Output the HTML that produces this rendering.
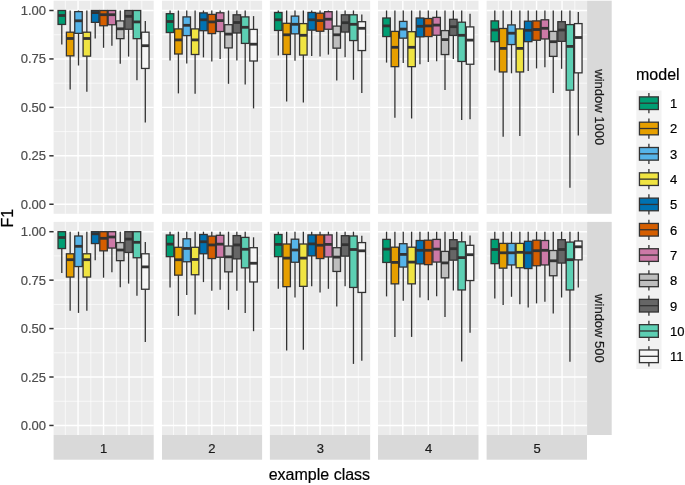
<!DOCTYPE html>
<html lang="en"><head><meta charset="utf-8"><title>F1 by example class</title>
<style>html,body{margin:0;padding:0;background:#fff;}body{width:685px;height:485px;overflow:hidden;}svg{display:block;will-change:transform;}</style>
</head><body>
<svg width="685" height="485" viewBox="0 0 685 485" font-family="'Liberation Sans', sans-serif">
<rect x="0" y="0" width="685" height="485" fill="#ffffff"/>
<g>
<rect x="53.60" y="0.70" width="100.10" height="213.10" fill="#EBEBEB"/>
<line x1="53.60" x2="153.70" y1="180.03" y2="180.03" stroke="#fff" stroke-opacity="0.9" stroke-width="0.75"/>
<line x1="53.60" x2="153.70" y1="131.59" y2="131.59" stroke="#fff" stroke-opacity="0.9" stroke-width="0.75"/>
<line x1="53.60" x2="153.70" y1="83.16" y2="83.16" stroke="#fff" stroke-opacity="0.9" stroke-width="0.75"/>
<line x1="53.60" x2="153.70" y1="34.72" y2="34.72" stroke="#fff" stroke-opacity="0.9" stroke-width="0.75"/>
<line x1="65.30" x2="65.30" y1="0.70" y2="213.80" stroke="#fff" stroke-opacity="0.9" stroke-width="0.75"/>
<line x1="90.80" x2="90.80" y1="0.70" y2="213.80" stroke="#fff" stroke-opacity="0.9" stroke-width="0.75"/>
<line x1="116.30" x2="116.30" y1="0.70" y2="213.80" stroke="#fff" stroke-opacity="0.9" stroke-width="0.75"/>
<line x1="141.80" x2="141.80" y1="0.70" y2="213.80" stroke="#fff" stroke-opacity="0.9" stroke-width="0.75"/>
<line x1="53.60" x2="153.70" y1="204.25" y2="204.25" stroke="#fff" stroke-width="1.4"/>
<line x1="53.60" x2="153.70" y1="155.81" y2="155.81" stroke="#fff" stroke-width="1.4"/>
<line x1="53.60" x2="153.70" y1="107.38" y2="107.38" stroke="#fff" stroke-width="1.4"/>
<line x1="53.60" x2="153.70" y1="58.94" y2="58.94" stroke="#fff" stroke-width="1.4"/>
<line x1="53.60" x2="153.70" y1="10.50" y2="10.50" stroke="#fff" stroke-width="1.4"/>
<line x1="78.05" x2="78.05" y1="0.70" y2="213.80" stroke="#fff" stroke-width="1.4"/>
<line x1="103.55" x2="103.55" y1="0.70" y2="213.80" stroke="#fff" stroke-width="1.4"/>
<line x1="129.05" x2="129.05" y1="0.70" y2="213.80" stroke="#fff" stroke-width="1.4"/>
<line x1="61.80" x2="61.80" y1="24.45" y2="44.50" stroke="#333333" stroke-width="1.3"/>
<rect x="58.04" y="10.50" width="7.51" height="13.95" fill="#009E73" stroke="#333333" stroke-width="1.3"/>
<line x1="58.04" x2="65.56" y1="15.50" y2="15.50" stroke="#333333" stroke-width="2.8"/>
<line x1="70.15" x2="70.15" y1="10.50" y2="32.20" stroke="#333333" stroke-width="1.3"/>
<line x1="70.15" x2="70.15" y1="55.85" y2="89.60" stroke="#333333" stroke-width="1.3"/>
<rect x="66.39" y="32.20" width="7.51" height="23.65" fill="#E69F00" stroke="#333333" stroke-width="1.3"/>
<line x1="66.39" x2="73.91" y1="38.50" y2="38.50" stroke="#333333" stroke-width="2.8"/>
<line x1="78.50" x2="78.50" y1="10.50" y2="11.60" stroke="#333333" stroke-width="1.3"/>
<line x1="78.50" x2="78.50" y1="33.35" y2="65.50" stroke="#333333" stroke-width="1.3"/>
<rect x="74.74" y="11.60" width="7.51" height="21.75" fill="#56B4E9" stroke="#333333" stroke-width="1.3"/>
<line x1="74.74" x2="82.26" y1="20.80" y2="20.80" stroke="#333333" stroke-width="2.8"/>
<line x1="86.85" x2="86.85" y1="10.50" y2="32.20" stroke="#333333" stroke-width="1.3"/>
<line x1="86.85" x2="86.85" y1="56.15" y2="91.70" stroke="#333333" stroke-width="1.3"/>
<rect x="83.09" y="32.20" width="7.51" height="23.95" fill="#F0E442" stroke="#333333" stroke-width="1.3"/>
<line x1="83.09" x2="90.61" y1="38.50" y2="38.50" stroke="#333333" stroke-width="2.8"/>
<line x1="95.20" x2="95.20" y1="22.35" y2="38.60" stroke="#333333" stroke-width="1.3"/>
<rect x="91.44" y="10.50" width="7.51" height="11.85" fill="#0072B2" stroke="#333333" stroke-width="1.3"/>
<line x1="91.44" x2="98.96" y1="12.60" y2="12.60" stroke="#333333" stroke-width="2.8"/>
<line x1="103.55" x2="103.55" y1="25.75" y2="47.80" stroke="#333333" stroke-width="1.3"/>
<rect x="99.79" y="10.50" width="7.51" height="15.25" fill="#D55E00" stroke="#333333" stroke-width="1.3"/>
<line x1="99.79" x2="107.31" y1="14.70" y2="14.70" stroke="#333333" stroke-width="2.8"/>
<line x1="111.90" x2="111.90" y1="24.75" y2="45.80" stroke="#333333" stroke-width="1.3"/>
<rect x="108.14" y="10.50" width="7.51" height="14.25" fill="#CC79A7" stroke="#333333" stroke-width="1.3"/>
<line x1="108.14" x2="115.66" y1="14.70" y2="14.70" stroke="#333333" stroke-width="2.8"/>
<line x1="120.25" x2="120.25" y1="10.50" y2="20.90" stroke="#333333" stroke-width="1.3"/>
<line x1="120.25" x2="120.25" y1="38.65" y2="63.80" stroke="#333333" stroke-width="1.3"/>
<rect x="116.49" y="20.90" width="7.51" height="17.75" fill="#BEBEBE" stroke="#333333" stroke-width="1.3"/>
<line x1="116.49" x2="124.01" y1="28.80" y2="28.80" stroke="#333333" stroke-width="2.8"/>
<line x1="128.60" x2="128.60" y1="29.25" y2="56.60" stroke="#333333" stroke-width="1.3"/>
<rect x="124.84" y="10.50" width="7.51" height="18.75" fill="#666666" stroke="#333333" stroke-width="1.3"/>
<line x1="124.84" x2="132.36" y1="16.30" y2="16.30" stroke="#333333" stroke-width="2.8"/>
<line x1="136.95" x2="136.95" y1="38.65" y2="80.20" stroke="#333333" stroke-width="1.3"/>
<rect x="133.19" y="10.50" width="7.51" height="28.15" fill="#5CCFB3" stroke="#333333" stroke-width="1.3"/>
<line x1="133.19" x2="140.71" y1="21.90" y2="21.90" stroke="#333333" stroke-width="2.8"/>
<line x1="145.30" x2="145.30" y1="20.90" y2="32.20" stroke="#333333" stroke-width="1.3"/>
<line x1="145.30" x2="145.30" y1="68.45" y2="122.50" stroke="#333333" stroke-width="1.3"/>
<rect x="141.54" y="32.20" width="7.51" height="36.25" fill="#F6F6F6" stroke="#333333" stroke-width="1.3"/>
<line x1="141.54" x2="149.06" y1="45.70" y2="45.70" stroke="#333333" stroke-width="2.8"/>
</g>
<g>
<rect x="162.00" y="0.70" width="100.10" height="213.10" fill="#EBEBEB"/>
<line x1="162.00" x2="262.10" y1="180.03" y2="180.03" stroke="#fff" stroke-opacity="0.9" stroke-width="0.75"/>
<line x1="162.00" x2="262.10" y1="131.59" y2="131.59" stroke="#fff" stroke-opacity="0.9" stroke-width="0.75"/>
<line x1="162.00" x2="262.10" y1="83.16" y2="83.16" stroke="#fff" stroke-opacity="0.9" stroke-width="0.75"/>
<line x1="162.00" x2="262.10" y1="34.72" y2="34.72" stroke="#fff" stroke-opacity="0.9" stroke-width="0.75"/>
<line x1="173.55" x2="173.55" y1="0.70" y2="213.80" stroke="#fff" stroke-opacity="0.9" stroke-width="0.75"/>
<line x1="199.05" x2="199.05" y1="0.70" y2="213.80" stroke="#fff" stroke-opacity="0.9" stroke-width="0.75"/>
<line x1="224.55" x2="224.55" y1="0.70" y2="213.80" stroke="#fff" stroke-opacity="0.9" stroke-width="0.75"/>
<line x1="250.05" x2="250.05" y1="0.70" y2="213.80" stroke="#fff" stroke-opacity="0.9" stroke-width="0.75"/>
<line x1="162.00" x2="262.10" y1="204.25" y2="204.25" stroke="#fff" stroke-width="1.4"/>
<line x1="162.00" x2="262.10" y1="155.81" y2="155.81" stroke="#fff" stroke-width="1.4"/>
<line x1="162.00" x2="262.10" y1="107.38" y2="107.38" stroke="#fff" stroke-width="1.4"/>
<line x1="162.00" x2="262.10" y1="58.94" y2="58.94" stroke="#fff" stroke-width="1.4"/>
<line x1="162.00" x2="262.10" y1="10.50" y2="10.50" stroke="#fff" stroke-width="1.4"/>
<line x1="186.30" x2="186.30" y1="0.70" y2="213.80" stroke="#fff" stroke-width="1.4"/>
<line x1="211.80" x2="211.80" y1="0.70" y2="213.80" stroke="#fff" stroke-width="1.4"/>
<line x1="237.30" x2="237.30" y1="0.70" y2="213.80" stroke="#fff" stroke-width="1.4"/>
<line x1="170.05" x2="170.05" y1="10.50" y2="13.70" stroke="#333333" stroke-width="1.3"/>
<line x1="170.05" x2="170.05" y1="32.50" y2="60.40" stroke="#333333" stroke-width="1.3"/>
<rect x="166.29" y="13.70" width="7.51" height="18.80" fill="#009E73" stroke="#333333" stroke-width="1.3"/>
<line x1="166.29" x2="173.81" y1="21.50" y2="21.50" stroke="#333333" stroke-width="2.8"/>
<line x1="178.40" x2="178.40" y1="10.50" y2="28.90" stroke="#333333" stroke-width="1.3"/>
<line x1="178.40" x2="178.40" y1="54.00" y2="93.40" stroke="#333333" stroke-width="1.3"/>
<rect x="174.64" y="28.90" width="7.51" height="25.10" fill="#E69F00" stroke="#333333" stroke-width="1.3"/>
<line x1="174.64" x2="182.16" y1="39.90" y2="39.90" stroke="#333333" stroke-width="2.8"/>
<line x1="186.75" x2="186.75" y1="10.50" y2="16.90" stroke="#333333" stroke-width="1.3"/>
<line x1="186.75" x2="186.75" y1="35.60" y2="63.50" stroke="#333333" stroke-width="1.3"/>
<rect x="182.99" y="16.90" width="7.51" height="18.70" fill="#56B4E9" stroke="#333333" stroke-width="1.3"/>
<line x1="182.99" x2="190.51" y1="25.30" y2="25.30" stroke="#333333" stroke-width="2.8"/>
<line x1="195.10" x2="195.10" y1="10.50" y2="28.90" stroke="#333333" stroke-width="1.3"/>
<line x1="195.10" x2="195.10" y1="54.50" y2="93.70" stroke="#333333" stroke-width="1.3"/>
<rect x="191.34" y="28.90" width="7.51" height="25.60" fill="#F0E442" stroke="#333333" stroke-width="1.3"/>
<line x1="191.34" x2="198.86" y1="39.90" y2="39.90" stroke="#333333" stroke-width="2.8"/>
<line x1="203.45" x2="203.45" y1="10.50" y2="12.90" stroke="#333333" stroke-width="1.3"/>
<line x1="203.45" x2="203.45" y1="30.70" y2="57.40" stroke="#333333" stroke-width="1.3"/>
<rect x="199.69" y="12.90" width="7.51" height="17.80" fill="#0072B2" stroke="#333333" stroke-width="1.3"/>
<line x1="199.69" x2="207.21" y1="19.80" y2="19.80" stroke="#333333" stroke-width="2.8"/>
<line x1="211.80" x2="211.80" y1="10.50" y2="14.40" stroke="#333333" stroke-width="1.3"/>
<line x1="211.80" x2="211.80" y1="33.60" y2="61.60" stroke="#333333" stroke-width="1.3"/>
<rect x="208.04" y="14.40" width="7.51" height="19.20" fill="#D55E00" stroke="#333333" stroke-width="1.3"/>
<line x1="208.04" x2="215.56" y1="21.90" y2="21.90" stroke="#333333" stroke-width="2.8"/>
<line x1="220.15" x2="220.15" y1="10.50" y2="12.80" stroke="#333333" stroke-width="1.3"/>
<line x1="220.15" x2="220.15" y1="31.50" y2="59.10" stroke="#333333" stroke-width="1.3"/>
<rect x="216.39" y="12.80" width="7.51" height="18.70" fill="#CC79A7" stroke="#333333" stroke-width="1.3"/>
<line x1="216.39" x2="223.91" y1="20.60" y2="20.60" stroke="#333333" stroke-width="2.8"/>
<line x1="228.50" x2="228.50" y1="10.50" y2="24.70" stroke="#333333" stroke-width="1.3"/>
<line x1="228.50" x2="228.50" y1="47.90" y2="83.80" stroke="#333333" stroke-width="1.3"/>
<rect x="224.74" y="24.70" width="7.51" height="23.20" fill="#BEBEBE" stroke="#333333" stroke-width="1.3"/>
<line x1="224.74" x2="232.26" y1="34.10" y2="34.10" stroke="#333333" stroke-width="2.8"/>
<line x1="236.85" x2="236.85" y1="10.50" y2="14.80" stroke="#333333" stroke-width="1.3"/>
<line x1="236.85" x2="236.85" y1="33.00" y2="60.40" stroke="#333333" stroke-width="1.3"/>
<rect x="233.09" y="14.80" width="7.51" height="18.20" fill="#666666" stroke="#333333" stroke-width="1.3"/>
<line x1="233.09" x2="240.61" y1="22.50" y2="22.50" stroke="#333333" stroke-width="2.8"/>
<line x1="245.20" x2="245.20" y1="10.50" y2="16.90" stroke="#333333" stroke-width="1.3"/>
<line x1="245.20" x2="245.20" y1="43.40" y2="84.60" stroke="#333333" stroke-width="1.3"/>
<rect x="241.44" y="16.90" width="7.51" height="26.50" fill="#5CCFB3" stroke="#333333" stroke-width="1.3"/>
<line x1="241.44" x2="248.96" y1="27.30" y2="27.30" stroke="#333333" stroke-width="2.8"/>
<line x1="253.55" x2="253.55" y1="16.10" y2="29.40" stroke="#333333" stroke-width="1.3"/>
<line x1="253.55" x2="253.55" y1="61.00" y2="108.40" stroke="#333333" stroke-width="1.3"/>
<rect x="249.79" y="29.40" width="7.51" height="31.60" fill="#F6F6F6" stroke="#333333" stroke-width="1.3"/>
<line x1="249.79" x2="257.31" y1="44.20" y2="44.20" stroke="#333333" stroke-width="2.8"/>
</g>
<g>
<rect x="269.90" y="0.70" width="100.25" height="213.10" fill="#EBEBEB"/>
<line x1="269.90" x2="370.15" y1="180.03" y2="180.03" stroke="#fff" stroke-opacity="0.9" stroke-width="0.75"/>
<line x1="269.90" x2="370.15" y1="131.59" y2="131.59" stroke="#fff" stroke-opacity="0.9" stroke-width="0.75"/>
<line x1="269.90" x2="370.15" y1="83.16" y2="83.16" stroke="#fff" stroke-opacity="0.9" stroke-width="0.75"/>
<line x1="269.90" x2="370.15" y1="34.72" y2="34.72" stroke="#fff" stroke-opacity="0.9" stroke-width="0.75"/>
<line x1="281.80" x2="281.80" y1="0.70" y2="213.80" stroke="#fff" stroke-opacity="0.9" stroke-width="0.75"/>
<line x1="307.30" x2="307.30" y1="0.70" y2="213.80" stroke="#fff" stroke-opacity="0.9" stroke-width="0.75"/>
<line x1="332.80" x2="332.80" y1="0.70" y2="213.80" stroke="#fff" stroke-opacity="0.9" stroke-width="0.75"/>
<line x1="358.30" x2="358.30" y1="0.70" y2="213.80" stroke="#fff" stroke-opacity="0.9" stroke-width="0.75"/>
<line x1="269.90" x2="370.15" y1="204.25" y2="204.25" stroke="#fff" stroke-width="1.4"/>
<line x1="269.90" x2="370.15" y1="155.81" y2="155.81" stroke="#fff" stroke-width="1.4"/>
<line x1="269.90" x2="370.15" y1="107.38" y2="107.38" stroke="#fff" stroke-width="1.4"/>
<line x1="269.90" x2="370.15" y1="58.94" y2="58.94" stroke="#fff" stroke-width="1.4"/>
<line x1="269.90" x2="370.15" y1="10.50" y2="10.50" stroke="#fff" stroke-width="1.4"/>
<line x1="294.55" x2="294.55" y1="0.70" y2="213.80" stroke="#fff" stroke-width="1.4"/>
<line x1="320.05" x2="320.05" y1="0.70" y2="213.80" stroke="#fff" stroke-width="1.4"/>
<line x1="345.55" x2="345.55" y1="0.70" y2="213.80" stroke="#fff" stroke-width="1.4"/>
<line x1="278.30" x2="278.30" y1="10.50" y2="12.50" stroke="#333333" stroke-width="1.3"/>
<line x1="278.30" x2="278.30" y1="30.45" y2="55.60" stroke="#333333" stroke-width="1.3"/>
<rect x="274.54" y="12.50" width="7.51" height="17.95" fill="#009E73" stroke="#333333" stroke-width="1.3"/>
<line x1="274.54" x2="282.06" y1="19.80" y2="19.80" stroke="#333333" stroke-width="2.8"/>
<line x1="286.65" x2="286.65" y1="10.50" y2="23.30" stroke="#333333" stroke-width="1.3"/>
<line x1="286.65" x2="286.65" y1="54.45" y2="101.50" stroke="#333333" stroke-width="1.3"/>
<rect x="282.89" y="23.30" width="7.51" height="31.15" fill="#E69F00" stroke="#333333" stroke-width="1.3"/>
<line x1="282.89" x2="290.41" y1="34.80" y2="34.80" stroke="#333333" stroke-width="2.8"/>
<line x1="295.00" x2="295.00" y1="10.50" y2="16.10" stroke="#333333" stroke-width="1.3"/>
<line x1="295.00" x2="295.00" y1="33.85" y2="60.80" stroke="#333333" stroke-width="1.3"/>
<rect x="291.24" y="16.10" width="7.51" height="17.75" fill="#56B4E9" stroke="#333333" stroke-width="1.3"/>
<line x1="291.24" x2="298.76" y1="24.30" y2="24.30" stroke="#333333" stroke-width="2.8"/>
<line x1="303.35" x2="303.35" y1="10.50" y2="23.60" stroke="#333333" stroke-width="1.3"/>
<line x1="303.35" x2="303.35" y1="55.05" y2="102.60" stroke="#333333" stroke-width="1.3"/>
<rect x="299.59" y="23.60" width="7.51" height="31.45" fill="#F0E442" stroke="#333333" stroke-width="1.3"/>
<line x1="299.59" x2="307.11" y1="35.30" y2="35.30" stroke="#333333" stroke-width="2.8"/>
<line x1="311.70" x2="311.70" y1="10.50" y2="12.50" stroke="#333333" stroke-width="1.3"/>
<line x1="311.70" x2="311.70" y1="30.15" y2="55.90" stroke="#333333" stroke-width="1.3"/>
<rect x="307.94" y="12.50" width="7.51" height="17.65" fill="#0072B2" stroke="#333333" stroke-width="1.3"/>
<line x1="307.94" x2="315.46" y1="19.80" y2="19.80" stroke="#333333" stroke-width="2.8"/>
<line x1="320.05" x2="320.05" y1="10.50" y2="13.20" stroke="#333333" stroke-width="1.3"/>
<line x1="320.05" x2="320.05" y1="31.25" y2="56.40" stroke="#333333" stroke-width="1.3"/>
<rect x="316.29" y="13.20" width="7.51" height="18.05" fill="#D55E00" stroke="#333333" stroke-width="1.3"/>
<line x1="316.29" x2="323.81" y1="20.60" y2="20.60" stroke="#333333" stroke-width="2.8"/>
<line x1="328.40" x2="328.40" y1="10.50" y2="11.70" stroke="#333333" stroke-width="1.3"/>
<line x1="328.40" x2="328.40" y1="29.25" y2="54.60" stroke="#333333" stroke-width="1.3"/>
<rect x="324.64" y="11.70" width="7.51" height="17.55" fill="#CC79A7" stroke="#333333" stroke-width="1.3"/>
<line x1="324.64" x2="332.16" y1="19.20" y2="19.20" stroke="#333333" stroke-width="2.8"/>
<line x1="336.75" x2="336.75" y1="10.50" y2="26.10" stroke="#333333" stroke-width="1.3"/>
<line x1="336.75" x2="336.75" y1="48.15" y2="80.60" stroke="#333333" stroke-width="1.3"/>
<rect x="332.99" y="26.10" width="7.51" height="22.05" fill="#BEBEBE" stroke="#333333" stroke-width="1.3"/>
<line x1="332.99" x2="340.51" y1="34.80" y2="34.80" stroke="#333333" stroke-width="2.8"/>
<line x1="345.10" x2="345.10" y1="10.50" y2="14.80" stroke="#333333" stroke-width="1.3"/>
<line x1="345.10" x2="345.10" y1="32.05" y2="57.20" stroke="#333333" stroke-width="1.3"/>
<rect x="341.34" y="14.80" width="7.51" height="17.25" fill="#666666" stroke="#333333" stroke-width="1.3"/>
<line x1="341.34" x2="348.86" y1="22.70" y2="22.70" stroke="#333333" stroke-width="2.8"/>
<line x1="353.45" x2="353.45" y1="10.50" y2="14.80" stroke="#333333" stroke-width="1.3"/>
<line x1="353.45" x2="353.45" y1="40.55" y2="79.80" stroke="#333333" stroke-width="1.3"/>
<rect x="349.69" y="14.80" width="7.51" height="25.75" fill="#5CCFB3" stroke="#333333" stroke-width="1.3"/>
<line x1="349.69" x2="357.21" y1="24.30" y2="24.30" stroke="#333333" stroke-width="2.8"/>
<line x1="361.80" x2="361.80" y1="14.50" y2="21.70" stroke="#333333" stroke-width="1.3"/>
<line x1="361.80" x2="361.80" y1="50.55" y2="93.10" stroke="#333333" stroke-width="1.3"/>
<rect x="358.04" y="21.70" width="7.51" height="28.85" fill="#F6F6F6" stroke="#333333" stroke-width="1.3"/>
<line x1="358.04" x2="365.56" y1="28.30" y2="28.30" stroke="#333333" stroke-width="2.8"/>
</g>
<g>
<rect x="378.00" y="0.70" width="100.50" height="213.10" fill="#EBEBEB"/>
<line x1="378.00" x2="478.50" y1="180.03" y2="180.03" stroke="#fff" stroke-opacity="0.9" stroke-width="0.75"/>
<line x1="378.00" x2="478.50" y1="131.59" y2="131.59" stroke="#fff" stroke-opacity="0.9" stroke-width="0.75"/>
<line x1="378.00" x2="478.50" y1="83.16" y2="83.16" stroke="#fff" stroke-opacity="0.9" stroke-width="0.75"/>
<line x1="378.00" x2="478.50" y1="34.72" y2="34.72" stroke="#fff" stroke-opacity="0.9" stroke-width="0.75"/>
<line x1="390.05" x2="390.05" y1="0.70" y2="213.80" stroke="#fff" stroke-opacity="0.9" stroke-width="0.75"/>
<line x1="415.55" x2="415.55" y1="0.70" y2="213.80" stroke="#fff" stroke-opacity="0.9" stroke-width="0.75"/>
<line x1="441.05" x2="441.05" y1="0.70" y2="213.80" stroke="#fff" stroke-opacity="0.9" stroke-width="0.75"/>
<line x1="466.55" x2="466.55" y1="0.70" y2="213.80" stroke="#fff" stroke-opacity="0.9" stroke-width="0.75"/>
<line x1="378.00" x2="478.50" y1="204.25" y2="204.25" stroke="#fff" stroke-width="1.4"/>
<line x1="378.00" x2="478.50" y1="155.81" y2="155.81" stroke="#fff" stroke-width="1.4"/>
<line x1="378.00" x2="478.50" y1="107.38" y2="107.38" stroke="#fff" stroke-width="1.4"/>
<line x1="378.00" x2="478.50" y1="58.94" y2="58.94" stroke="#fff" stroke-width="1.4"/>
<line x1="378.00" x2="478.50" y1="10.50" y2="10.50" stroke="#fff" stroke-width="1.4"/>
<line x1="402.80" x2="402.80" y1="0.70" y2="213.80" stroke="#fff" stroke-width="1.4"/>
<line x1="428.30" x2="428.30" y1="0.70" y2="213.80" stroke="#fff" stroke-width="1.4"/>
<line x1="453.80" x2="453.80" y1="0.70" y2="213.80" stroke="#fff" stroke-width="1.4"/>
<line x1="386.55" x2="386.55" y1="10.50" y2="18.00" stroke="#333333" stroke-width="1.3"/>
<line x1="386.55" x2="386.55" y1="36.55" y2="62.60" stroke="#333333" stroke-width="1.3"/>
<rect x="382.79" y="18.00" width="7.51" height="18.55" fill="#009E73" stroke="#333333" stroke-width="1.3"/>
<line x1="382.79" x2="390.31" y1="25.90" y2="25.90" stroke="#333333" stroke-width="2.8"/>
<line x1="394.90" x2="394.90" y1="10.50" y2="31.40" stroke="#333333" stroke-width="1.3"/>
<line x1="394.90" x2="394.90" y1="66.65" y2="117.70" stroke="#333333" stroke-width="1.3"/>
<rect x="391.14" y="31.40" width="7.51" height="35.25" fill="#E69F00" stroke="#333333" stroke-width="1.3"/>
<line x1="391.14" x2="398.66" y1="47.30" y2="47.30" stroke="#333333" stroke-width="2.8"/>
<line x1="403.25" x2="403.25" y1="10.50" y2="21.40" stroke="#333333" stroke-width="1.3"/>
<line x1="403.25" x2="403.25" y1="38.15" y2="62.90" stroke="#333333" stroke-width="1.3"/>
<rect x="399.49" y="21.40" width="7.51" height="16.75" fill="#56B4E9" stroke="#333333" stroke-width="1.3"/>
<line x1="399.49" x2="407.01" y1="29.10" y2="29.10" stroke="#333333" stroke-width="2.8"/>
<line x1="411.60" x2="411.60" y1="10.50" y2="31.70" stroke="#333333" stroke-width="1.3"/>
<line x1="411.60" x2="411.60" y1="66.65" y2="118.50" stroke="#333333" stroke-width="1.3"/>
<rect x="407.84" y="31.70" width="7.51" height="34.95" fill="#F0E442" stroke="#333333" stroke-width="1.3"/>
<line x1="407.84" x2="415.36" y1="47.30" y2="47.30" stroke="#333333" stroke-width="2.8"/>
<line x1="419.95" x2="419.95" y1="10.50" y2="18.00" stroke="#333333" stroke-width="1.3"/>
<line x1="419.95" x2="419.95" y1="36.85" y2="64.20" stroke="#333333" stroke-width="1.3"/>
<rect x="416.19" y="18.00" width="7.51" height="18.85" fill="#0072B2" stroke="#333333" stroke-width="1.3"/>
<line x1="416.19" x2="423.71" y1="26.30" y2="26.30" stroke="#333333" stroke-width="2.8"/>
<line x1="428.30" x2="428.30" y1="10.50" y2="18.50" stroke="#333333" stroke-width="1.3"/>
<line x1="428.30" x2="428.30" y1="36.55" y2="62.10" stroke="#333333" stroke-width="1.3"/>
<rect x="424.54" y="18.50" width="7.51" height="18.05" fill="#D55E00" stroke="#333333" stroke-width="1.3"/>
<line x1="424.54" x2="432.06" y1="25.90" y2="25.90" stroke="#333333" stroke-width="2.8"/>
<line x1="436.65" x2="436.65" y1="10.50" y2="17.40" stroke="#333333" stroke-width="1.3"/>
<line x1="436.65" x2="436.65" y1="35.25" y2="61.30" stroke="#333333" stroke-width="1.3"/>
<rect x="432.89" y="17.40" width="7.51" height="17.85" fill="#CC79A7" stroke="#333333" stroke-width="1.3"/>
<line x1="432.89" x2="440.41" y1="25.10" y2="25.10" stroke="#333333" stroke-width="2.8"/>
<line x1="445.00" x2="445.00" y1="10.50" y2="30.60" stroke="#333333" stroke-width="1.3"/>
<line x1="445.00" x2="445.00" y1="54.55" y2="90.10" stroke="#333333" stroke-width="1.3"/>
<rect x="441.24" y="30.60" width="7.51" height="23.95" fill="#BEBEBE" stroke="#333333" stroke-width="1.3"/>
<line x1="441.24" x2="448.76" y1="39.60" y2="39.60" stroke="#333333" stroke-width="2.8"/>
<line x1="453.35" x2="453.35" y1="10.50" y2="19.30" stroke="#333333" stroke-width="1.3"/>
<line x1="453.35" x2="453.35" y1="35.45" y2="59.00" stroke="#333333" stroke-width="1.3"/>
<rect x="449.59" y="19.30" width="7.51" height="16.15" fill="#666666" stroke="#333333" stroke-width="1.3"/>
<line x1="449.59" x2="457.11" y1="26.70" y2="26.70" stroke="#333333" stroke-width="2.8"/>
<line x1="461.70" x2="461.70" y1="10.50" y2="22.20" stroke="#333333" stroke-width="1.3"/>
<line x1="461.70" x2="461.70" y1="61.45" y2="120.10" stroke="#333333" stroke-width="1.3"/>
<rect x="457.94" y="22.20" width="7.51" height="39.25" fill="#5CCFB3" stroke="#333333" stroke-width="1.3"/>
<line x1="457.94" x2="465.46" y1="35.30" y2="35.30" stroke="#333333" stroke-width="2.8"/>
<line x1="470.05" x2="470.05" y1="13.70" y2="26.90" stroke="#333333" stroke-width="1.3"/>
<line x1="470.05" x2="470.05" y1="64.25" y2="119.30" stroke="#333333" stroke-width="1.3"/>
<rect x="466.29" y="26.90" width="7.51" height="37.35" fill="#F6F6F6" stroke="#333333" stroke-width="1.3"/>
<line x1="466.29" x2="473.81" y1="40.10" y2="40.10" stroke="#333333" stroke-width="2.8"/>
</g>
<g>
<rect x="486.60" y="0.70" width="100.40" height="213.10" fill="#EBEBEB"/>
<line x1="486.60" x2="587.00" y1="180.03" y2="180.03" stroke="#fff" stroke-opacity="0.9" stroke-width="0.75"/>
<line x1="486.60" x2="587.00" y1="131.59" y2="131.59" stroke="#fff" stroke-opacity="0.9" stroke-width="0.75"/>
<line x1="486.60" x2="587.00" y1="83.16" y2="83.16" stroke="#fff" stroke-opacity="0.9" stroke-width="0.75"/>
<line x1="486.60" x2="587.00" y1="34.72" y2="34.72" stroke="#fff" stroke-opacity="0.9" stroke-width="0.75"/>
<line x1="498.30" x2="498.30" y1="0.70" y2="213.80" stroke="#fff" stroke-opacity="0.9" stroke-width="0.75"/>
<line x1="523.80" x2="523.80" y1="0.70" y2="213.80" stroke="#fff" stroke-opacity="0.9" stroke-width="0.75"/>
<line x1="549.30" x2="549.30" y1="0.70" y2="213.80" stroke="#fff" stroke-opacity="0.9" stroke-width="0.75"/>
<line x1="574.80" x2="574.80" y1="0.70" y2="213.80" stroke="#fff" stroke-opacity="0.9" stroke-width="0.75"/>
<line x1="486.60" x2="587.00" y1="204.25" y2="204.25" stroke="#fff" stroke-width="1.4"/>
<line x1="486.60" x2="587.00" y1="155.81" y2="155.81" stroke="#fff" stroke-width="1.4"/>
<line x1="486.60" x2="587.00" y1="107.38" y2="107.38" stroke="#fff" stroke-width="1.4"/>
<line x1="486.60" x2="587.00" y1="58.94" y2="58.94" stroke="#fff" stroke-width="1.4"/>
<line x1="486.60" x2="587.00" y1="10.50" y2="10.50" stroke="#fff" stroke-width="1.4"/>
<line x1="511.05" x2="511.05" y1="0.70" y2="213.80" stroke="#fff" stroke-width="1.4"/>
<line x1="536.55" x2="536.55" y1="0.70" y2="213.80" stroke="#fff" stroke-width="1.4"/>
<line x1="562.05" x2="562.05" y1="0.70" y2="213.80" stroke="#fff" stroke-width="1.4"/>
<line x1="494.80" x2="494.80" y1="10.50" y2="20.90" stroke="#333333" stroke-width="1.3"/>
<line x1="494.80" x2="494.80" y1="41.65" y2="70.40" stroke="#333333" stroke-width="1.3"/>
<rect x="491.04" y="20.90" width="7.51" height="20.75" fill="#009E73" stroke="#333333" stroke-width="1.3"/>
<line x1="491.04" x2="498.56" y1="30.00" y2="30.00" stroke="#333333" stroke-width="2.8"/>
<line x1="503.15" x2="503.15" y1="10.50" y2="28.50" stroke="#333333" stroke-width="1.3"/>
<line x1="503.15" x2="503.15" y1="71.95" y2="136.70" stroke="#333333" stroke-width="1.3"/>
<rect x="499.39" y="28.50" width="7.51" height="43.45" fill="#E69F00" stroke="#333333" stroke-width="1.3"/>
<line x1="499.39" x2="506.91" y1="48.40" y2="48.40" stroke="#333333" stroke-width="2.8"/>
<line x1="511.50" x2="511.50" y1="10.50" y2="24.90" stroke="#333333" stroke-width="1.3"/>
<line x1="511.50" x2="511.50" y1="44.55" y2="73.30" stroke="#333333" stroke-width="1.3"/>
<rect x="507.74" y="24.90" width="7.51" height="19.65" fill="#56B4E9" stroke="#333333" stroke-width="1.3"/>
<line x1="507.74" x2="515.26" y1="33.20" y2="33.20" stroke="#333333" stroke-width="2.8"/>
<line x1="519.85" x2="519.85" y1="10.50" y2="28.90" stroke="#333333" stroke-width="1.3"/>
<line x1="519.85" x2="519.85" y1="71.95" y2="135.90" stroke="#333333" stroke-width="1.3"/>
<rect x="516.09" y="28.90" width="7.51" height="43.05" fill="#F0E442" stroke="#333333" stroke-width="1.3"/>
<line x1="516.09" x2="523.61" y1="48.40" y2="48.40" stroke="#333333" stroke-width="2.8"/>
<line x1="528.20" x2="528.20" y1="10.50" y2="21.20" stroke="#333333" stroke-width="1.3"/>
<line x1="528.20" x2="528.20" y1="41.65" y2="70.90" stroke="#333333" stroke-width="1.3"/>
<rect x="524.44" y="21.20" width="7.51" height="20.45" fill="#0072B2" stroke="#333333" stroke-width="1.3"/>
<line x1="524.44" x2="531.96" y1="30.30" y2="30.30" stroke="#333333" stroke-width="2.8"/>
<line x1="536.55" x2="536.55" y1="10.50" y2="20.90" stroke="#333333" stroke-width="1.3"/>
<line x1="536.55" x2="536.55" y1="40.25" y2="68.40" stroke="#333333" stroke-width="1.3"/>
<rect x="532.79" y="20.90" width="7.51" height="19.35" fill="#D55E00" stroke="#333333" stroke-width="1.3"/>
<line x1="532.79" x2="540.31" y1="29.50" y2="29.50" stroke="#333333" stroke-width="2.8"/>
<line x1="544.90" x2="544.90" y1="10.50" y2="19.80" stroke="#333333" stroke-width="1.3"/>
<line x1="544.90" x2="544.90" y1="38.95" y2="67.20" stroke="#333333" stroke-width="1.3"/>
<rect x="541.14" y="19.80" width="7.51" height="19.15" fill="#CC79A7" stroke="#333333" stroke-width="1.3"/>
<line x1="541.14" x2="548.66" y1="28.30" y2="28.30" stroke="#333333" stroke-width="2.8"/>
<line x1="553.25" x2="553.25" y1="10.50" y2="31.40" stroke="#333333" stroke-width="1.3"/>
<line x1="553.25" x2="553.25" y1="56.35" y2="93.00" stroke="#333333" stroke-width="1.3"/>
<rect x="549.49" y="31.40" width="7.51" height="24.95" fill="#BEBEBE" stroke="#333333" stroke-width="1.3"/>
<line x1="549.49" x2="557.01" y1="41.70" y2="41.70" stroke="#333333" stroke-width="2.8"/>
<line x1="561.60" x2="561.60" y1="10.50" y2="21.70" stroke="#333333" stroke-width="1.3"/>
<line x1="561.60" x2="561.60" y1="41.35" y2="68.80" stroke="#333333" stroke-width="1.3"/>
<rect x="557.84" y="21.70" width="7.51" height="19.65" fill="#666666" stroke="#333333" stroke-width="1.3"/>
<line x1="557.84" x2="565.36" y1="30.00" y2="30.00" stroke="#333333" stroke-width="2.8"/>
<line x1="569.95" x2="569.95" y1="10.50" y2="24.60" stroke="#333333" stroke-width="1.3"/>
<line x1="569.95" x2="569.95" y1="90.15" y2="187.70" stroke="#333333" stroke-width="1.3"/>
<rect x="566.19" y="24.60" width="7.51" height="65.55" fill="#5CCFB3" stroke="#333333" stroke-width="1.3"/>
<line x1="566.19" x2="573.71" y1="46.40" y2="46.40" stroke="#333333" stroke-width="2.8"/>
<line x1="578.30" x2="578.30" y1="12.10" y2="23.60" stroke="#333333" stroke-width="1.3"/>
<line x1="578.30" x2="578.30" y1="72.85" y2="135.40" stroke="#333333" stroke-width="1.3"/>
<rect x="574.54" y="23.60" width="7.51" height="49.25" fill="#F6F6F6" stroke="#333333" stroke-width="1.3"/>
<line x1="574.54" x2="582.06" y1="37.50" y2="37.50" stroke="#333333" stroke-width="2.8"/>
</g>
<line x1="49.3" x2="53.6" y1="204.25" y2="204.25" stroke="#333" stroke-width="1.5"/>
<text x="46.0" y="208.80" font-size="13" fill="#4D4D4D" stroke="#4D4D4D" stroke-width="0.2" text-anchor="end">0.00</text>
<line x1="49.3" x2="53.6" y1="155.81" y2="155.81" stroke="#333" stroke-width="1.5"/>
<text x="46.0" y="160.36" font-size="13" fill="#4D4D4D" stroke="#4D4D4D" stroke-width="0.2" text-anchor="end">0.25</text>
<line x1="49.3" x2="53.6" y1="107.38" y2="107.38" stroke="#333" stroke-width="1.5"/>
<text x="46.0" y="111.92" font-size="13" fill="#4D4D4D" stroke="#4D4D4D" stroke-width="0.2" text-anchor="end">0.50</text>
<line x1="49.3" x2="53.6" y1="58.94" y2="58.94" stroke="#333" stroke-width="1.5"/>
<text x="46.0" y="63.49" font-size="13" fill="#4D4D4D" stroke="#4D4D4D" stroke-width="0.2" text-anchor="end">0.75</text>
<line x1="49.3" x2="53.6" y1="10.50" y2="10.50" stroke="#333" stroke-width="1.5"/>
<text x="46.0" y="15.05" font-size="13" fill="#4D4D4D" stroke="#4D4D4D" stroke-width="0.2" text-anchor="end">1.00</text>
<rect x="587.1" y="0.70" width="24.6" height="213.10" fill="#D9D9D9"/>
<text transform="translate(594.9,107.25) rotate(90)" font-size="13" fill="#1A1A1A" stroke="#1A1A1A" stroke-width="0.2" text-anchor="middle">window 1000</text>
<g>
<rect x="53.60" y="221.90" width="100.10" height="213.10" fill="#EBEBEB"/>
<line x1="53.60" x2="153.70" y1="401.23" y2="401.23" stroke="#fff" stroke-opacity="0.9" stroke-width="0.75"/>
<line x1="53.60" x2="153.70" y1="352.79" y2="352.79" stroke="#fff" stroke-opacity="0.9" stroke-width="0.75"/>
<line x1="53.60" x2="153.70" y1="304.36" y2="304.36" stroke="#fff" stroke-opacity="0.9" stroke-width="0.75"/>
<line x1="53.60" x2="153.70" y1="255.92" y2="255.92" stroke="#fff" stroke-opacity="0.9" stroke-width="0.75"/>
<line x1="65.30" x2="65.30" y1="221.90" y2="435.00" stroke="#fff" stroke-opacity="0.9" stroke-width="0.75"/>
<line x1="90.80" x2="90.80" y1="221.90" y2="435.00" stroke="#fff" stroke-opacity="0.9" stroke-width="0.75"/>
<line x1="116.30" x2="116.30" y1="221.90" y2="435.00" stroke="#fff" stroke-opacity="0.9" stroke-width="0.75"/>
<line x1="141.80" x2="141.80" y1="221.90" y2="435.00" stroke="#fff" stroke-opacity="0.9" stroke-width="0.75"/>
<line x1="53.60" x2="153.70" y1="425.45" y2="425.45" stroke="#fff" stroke-width="1.4"/>
<line x1="53.60" x2="153.70" y1="377.01" y2="377.01" stroke="#fff" stroke-width="1.4"/>
<line x1="53.60" x2="153.70" y1="328.58" y2="328.58" stroke="#fff" stroke-width="1.4"/>
<line x1="53.60" x2="153.70" y1="280.14" y2="280.14" stroke="#fff" stroke-width="1.4"/>
<line x1="53.60" x2="153.70" y1="231.70" y2="231.70" stroke="#fff" stroke-width="1.4"/>
<line x1="78.05" x2="78.05" y1="221.90" y2="435.00" stroke="#fff" stroke-width="1.4"/>
<line x1="103.55" x2="103.55" y1="221.90" y2="435.00" stroke="#fff" stroke-width="1.4"/>
<line x1="129.05" x2="129.05" y1="221.90" y2="435.00" stroke="#fff" stroke-width="1.4"/>
<line x1="61.80" x2="61.80" y1="248.55" y2="273.00" stroke="#333333" stroke-width="1.3"/>
<rect x="58.04" y="231.70" width="7.51" height="16.85" fill="#009E73" stroke="#333333" stroke-width="1.3"/>
<line x1="58.04" x2="65.56" y1="237.50" y2="237.50" stroke="#333333" stroke-width="2.8"/>
<line x1="70.15" x2="70.15" y1="231.70" y2="253.80" stroke="#333333" stroke-width="1.3"/>
<line x1="70.15" x2="70.15" y1="277.05" y2="310.80" stroke="#333333" stroke-width="1.3"/>
<rect x="66.39" y="253.80" width="7.51" height="23.25" fill="#E69F00" stroke="#333333" stroke-width="1.3"/>
<line x1="66.39" x2="73.91" y1="259.70" y2="259.70" stroke="#333333" stroke-width="2.8"/>
<line x1="78.50" x2="78.50" y1="231.70" y2="236.00" stroke="#333333" stroke-width="1.3"/>
<line x1="78.50" x2="78.50" y1="266.55" y2="312.90" stroke="#333333" stroke-width="1.3"/>
<rect x="74.74" y="236.00" width="7.51" height="30.55" fill="#56B4E9" stroke="#333333" stroke-width="1.3"/>
<line x1="74.74" x2="82.26" y1="246.30" y2="246.30" stroke="#333333" stroke-width="2.8"/>
<line x1="86.85" x2="86.85" y1="231.70" y2="253.80" stroke="#333333" stroke-width="1.3"/>
<line x1="86.85" x2="86.85" y1="277.05" y2="310.80" stroke="#333333" stroke-width="1.3"/>
<rect x="83.09" y="253.80" width="7.51" height="23.25" fill="#F0E442" stroke="#333333" stroke-width="1.3"/>
<line x1="83.09" x2="90.61" y1="259.70" y2="259.70" stroke="#333333" stroke-width="2.8"/>
<line x1="95.20" x2="95.20" y1="243.55" y2="260.30" stroke="#333333" stroke-width="1.3"/>
<rect x="91.44" y="231.70" width="7.51" height="11.85" fill="#0072B2" stroke="#333333" stroke-width="1.3"/>
<line x1="91.44" x2="98.96" y1="233.80" y2="233.80" stroke="#333333" stroke-width="2.8"/>
<line x1="103.55" x2="103.55" y1="250.85" y2="277.70" stroke="#333333" stroke-width="1.3"/>
<rect x="99.79" y="231.70" width="7.51" height="19.15" fill="#D55E00" stroke="#333333" stroke-width="1.3"/>
<line x1="99.79" x2="107.31" y1="238.30" y2="238.30" stroke="#333333" stroke-width="2.8"/>
<line x1="111.90" x2="111.90" y1="248.05" y2="272.20" stroke="#333333" stroke-width="1.3"/>
<rect x="108.14" y="231.70" width="7.51" height="16.35" fill="#CC79A7" stroke="#333333" stroke-width="1.3"/>
<line x1="108.14" x2="115.66" y1="237.00" y2="237.00" stroke="#333333" stroke-width="2.8"/>
<line x1="120.25" x2="120.25" y1="231.70" y2="242.60" stroke="#333333" stroke-width="1.3"/>
<line x1="120.25" x2="120.25" y1="260.65" y2="287.30" stroke="#333333" stroke-width="1.3"/>
<rect x="116.49" y="242.60" width="7.51" height="18.05" fill="#BEBEBE" stroke="#333333" stroke-width="1.3"/>
<line x1="116.49" x2="124.01" y1="250.00" y2="250.00" stroke="#333333" stroke-width="2.8"/>
<line x1="128.60" x2="128.60" y1="252.45" y2="283.60" stroke="#333333" stroke-width="1.3"/>
<rect x="124.84" y="231.70" width="7.51" height="20.75" fill="#666666" stroke="#333333" stroke-width="1.3"/>
<line x1="124.84" x2="132.36" y1="239.10" y2="239.10" stroke="#333333" stroke-width="2.8"/>
<line x1="136.95" x2="136.95" y1="257.75" y2="295.70" stroke="#333333" stroke-width="1.3"/>
<rect x="133.19" y="231.70" width="7.51" height="26.05" fill="#5CCFB3" stroke="#333333" stroke-width="1.3"/>
<line x1="133.19" x2="140.71" y1="242.30" y2="242.30" stroke="#333333" stroke-width="2.8"/>
<line x1="145.30" x2="145.30" y1="242.10" y2="253.80" stroke="#333333" stroke-width="1.3"/>
<line x1="145.30" x2="145.30" y1="289.25" y2="342.10" stroke="#333333" stroke-width="1.3"/>
<rect x="141.54" y="253.80" width="7.51" height="35.45" fill="#F6F6F6" stroke="#333333" stroke-width="1.3"/>
<line x1="141.54" x2="149.06" y1="266.90" y2="266.90" stroke="#333333" stroke-width="2.8"/>
</g>
<g>
<rect x="162.00" y="221.90" width="100.10" height="213.10" fill="#EBEBEB"/>
<line x1="162.00" x2="262.10" y1="401.23" y2="401.23" stroke="#fff" stroke-opacity="0.9" stroke-width="0.75"/>
<line x1="162.00" x2="262.10" y1="352.79" y2="352.79" stroke="#fff" stroke-opacity="0.9" stroke-width="0.75"/>
<line x1="162.00" x2="262.10" y1="304.36" y2="304.36" stroke="#fff" stroke-opacity="0.9" stroke-width="0.75"/>
<line x1="162.00" x2="262.10" y1="255.92" y2="255.92" stroke="#fff" stroke-opacity="0.9" stroke-width="0.75"/>
<line x1="173.55" x2="173.55" y1="221.90" y2="435.00" stroke="#fff" stroke-opacity="0.9" stroke-width="0.75"/>
<line x1="199.05" x2="199.05" y1="221.90" y2="435.00" stroke="#fff" stroke-opacity="0.9" stroke-width="0.75"/>
<line x1="224.55" x2="224.55" y1="221.90" y2="435.00" stroke="#fff" stroke-opacity="0.9" stroke-width="0.75"/>
<line x1="250.05" x2="250.05" y1="221.90" y2="435.00" stroke="#fff" stroke-opacity="0.9" stroke-width="0.75"/>
<line x1="162.00" x2="262.10" y1="425.45" y2="425.45" stroke="#fff" stroke-width="1.4"/>
<line x1="162.00" x2="262.10" y1="377.01" y2="377.01" stroke="#fff" stroke-width="1.4"/>
<line x1="162.00" x2="262.10" y1="328.58" y2="328.58" stroke="#fff" stroke-width="1.4"/>
<line x1="162.00" x2="262.10" y1="280.14" y2="280.14" stroke="#fff" stroke-width="1.4"/>
<line x1="162.00" x2="262.10" y1="231.70" y2="231.70" stroke="#fff" stroke-width="1.4"/>
<line x1="186.30" x2="186.30" y1="221.90" y2="435.00" stroke="#fff" stroke-width="1.4"/>
<line x1="211.80" x2="211.80" y1="221.90" y2="435.00" stroke="#fff" stroke-width="1.4"/>
<line x1="237.30" x2="237.30" y1="221.90" y2="435.00" stroke="#fff" stroke-width="1.4"/>
<line x1="170.05" x2="170.05" y1="231.70" y2="235.00" stroke="#333333" stroke-width="1.3"/>
<line x1="170.05" x2="170.05" y1="256.65" y2="287.60" stroke="#333333" stroke-width="1.3"/>
<rect x="166.29" y="235.00" width="7.51" height="21.65" fill="#009E73" stroke="#333333" stroke-width="1.3"/>
<line x1="166.29" x2="173.81" y1="244.15" y2="244.15" stroke="#333333" stroke-width="2.8"/>
<line x1="178.40" x2="178.40" y1="231.70" y2="247.30" stroke="#333333" stroke-width="1.3"/>
<line x1="178.40" x2="178.40" y1="275.15" y2="315.90" stroke="#333333" stroke-width="1.3"/>
<rect x="174.64" y="247.30" width="7.51" height="27.85" fill="#E69F00" stroke="#333333" stroke-width="1.3"/>
<line x1="174.64" x2="182.16" y1="259.75" y2="259.75" stroke="#333333" stroke-width="2.8"/>
<line x1="186.75" x2="186.75" y1="231.70" y2="238.80" stroke="#333333" stroke-width="1.3"/>
<line x1="186.75" x2="186.75" y1="261.75" y2="294.90" stroke="#333333" stroke-width="1.3"/>
<rect x="182.99" y="238.80" width="7.51" height="22.95" fill="#56B4E9" stroke="#333333" stroke-width="1.3"/>
<line x1="182.99" x2="190.51" y1="248.45" y2="248.45" stroke="#333333" stroke-width="2.8"/>
<line x1="195.10" x2="195.10" y1="231.70" y2="247.30" stroke="#333333" stroke-width="1.3"/>
<line x1="195.10" x2="195.10" y1="274.75" y2="314.60" stroke="#333333" stroke-width="1.3"/>
<rect x="191.34" y="247.30" width="7.51" height="27.45" fill="#F0E442" stroke="#333333" stroke-width="1.3"/>
<line x1="191.34" x2="198.86" y1="259.45" y2="259.45" stroke="#333333" stroke-width="2.8"/>
<line x1="203.45" x2="203.45" y1="231.70" y2="234.50" stroke="#333333" stroke-width="1.3"/>
<line x1="203.45" x2="203.45" y1="253.75" y2="282.10" stroke="#333333" stroke-width="1.3"/>
<rect x="199.69" y="234.50" width="7.51" height="19.25" fill="#0072B2" stroke="#333333" stroke-width="1.3"/>
<line x1="199.69" x2="207.21" y1="241.75" y2="241.75" stroke="#333333" stroke-width="2.8"/>
<line x1="211.80" x2="211.80" y1="231.70" y2="236.10" stroke="#333333" stroke-width="1.3"/>
<line x1="211.80" x2="211.80" y1="258.55" y2="290.80" stroke="#333333" stroke-width="1.3"/>
<rect x="208.04" y="236.10" width="7.51" height="22.45" fill="#D55E00" stroke="#333333" stroke-width="1.3"/>
<line x1="208.04" x2="215.56" y1="244.95" y2="244.95" stroke="#333333" stroke-width="2.8"/>
<line x1="220.15" x2="220.15" y1="231.70" y2="235.30" stroke="#333333" stroke-width="1.3"/>
<line x1="220.15" x2="220.15" y1="257.25" y2="289.70" stroke="#333333" stroke-width="1.3"/>
<rect x="216.39" y="235.30" width="7.51" height="21.95" fill="#CC79A7" stroke="#333333" stroke-width="1.3"/>
<line x1="216.39" x2="223.91" y1="244.15" y2="244.15" stroke="#333333" stroke-width="2.8"/>
<line x1="228.50" x2="228.50" y1="231.70" y2="246.00" stroke="#333333" stroke-width="1.3"/>
<line x1="228.50" x2="228.50" y1="271.85" y2="309.80" stroke="#333333" stroke-width="1.3"/>
<rect x="224.74" y="246.00" width="7.51" height="25.85" fill="#BEBEBE" stroke="#333333" stroke-width="1.3"/>
<line x1="224.74" x2="232.26" y1="256.85" y2="256.85" stroke="#333333" stroke-width="2.8"/>
<line x1="236.85" x2="236.85" y1="231.70" y2="235.60" stroke="#333333" stroke-width="1.3"/>
<line x1="236.85" x2="236.85" y1="258.85" y2="290.80" stroke="#333333" stroke-width="1.3"/>
<rect x="233.09" y="235.60" width="7.51" height="23.25" fill="#666666" stroke="#333333" stroke-width="1.3"/>
<line x1="233.09" x2="240.61" y1="244.95" y2="244.95" stroke="#333333" stroke-width="2.8"/>
<line x1="245.20" x2="245.20" y1="231.70" y2="237.40" stroke="#333333" stroke-width="1.3"/>
<line x1="245.20" x2="245.20" y1="267.85" y2="313.00" stroke="#333333" stroke-width="1.3"/>
<rect x="241.44" y="237.40" width="7.51" height="30.45" fill="#5CCFB3" stroke="#333333" stroke-width="1.3"/>
<line x1="241.44" x2="248.96" y1="249.25" y2="249.25" stroke="#333333" stroke-width="2.8"/>
<line x1="253.55" x2="253.55" y1="237.30" y2="247.70" stroke="#333333" stroke-width="1.3"/>
<line x1="253.55" x2="253.55" y1="281.95" y2="331.20" stroke="#333333" stroke-width="1.3"/>
<rect x="249.79" y="247.70" width="7.51" height="34.25" fill="#F6F6F6" stroke="#333333" stroke-width="1.3"/>
<line x1="249.79" x2="257.31" y1="263.25" y2="263.25" stroke="#333333" stroke-width="2.8"/>
</g>
<g>
<rect x="269.90" y="221.90" width="100.25" height="213.10" fill="#EBEBEB"/>
<line x1="269.90" x2="370.15" y1="401.23" y2="401.23" stroke="#fff" stroke-opacity="0.9" stroke-width="0.75"/>
<line x1="269.90" x2="370.15" y1="352.79" y2="352.79" stroke="#fff" stroke-opacity="0.9" stroke-width="0.75"/>
<line x1="269.90" x2="370.15" y1="304.36" y2="304.36" stroke="#fff" stroke-opacity="0.9" stroke-width="0.75"/>
<line x1="269.90" x2="370.15" y1="255.92" y2="255.92" stroke="#fff" stroke-opacity="0.9" stroke-width="0.75"/>
<line x1="281.80" x2="281.80" y1="221.90" y2="435.00" stroke="#fff" stroke-opacity="0.9" stroke-width="0.75"/>
<line x1="307.30" x2="307.30" y1="221.90" y2="435.00" stroke="#fff" stroke-opacity="0.9" stroke-width="0.75"/>
<line x1="332.80" x2="332.80" y1="221.90" y2="435.00" stroke="#fff" stroke-opacity="0.9" stroke-width="0.75"/>
<line x1="358.30" x2="358.30" y1="221.90" y2="435.00" stroke="#fff" stroke-opacity="0.9" stroke-width="0.75"/>
<line x1="269.90" x2="370.15" y1="425.45" y2="425.45" stroke="#fff" stroke-width="1.4"/>
<line x1="269.90" x2="370.15" y1="377.01" y2="377.01" stroke="#fff" stroke-width="1.4"/>
<line x1="269.90" x2="370.15" y1="328.58" y2="328.58" stroke="#fff" stroke-width="1.4"/>
<line x1="269.90" x2="370.15" y1="280.14" y2="280.14" stroke="#fff" stroke-width="1.4"/>
<line x1="269.90" x2="370.15" y1="231.70" y2="231.70" stroke="#fff" stroke-width="1.4"/>
<line x1="294.55" x2="294.55" y1="221.90" y2="435.00" stroke="#fff" stroke-width="1.4"/>
<line x1="320.05" x2="320.05" y1="221.90" y2="435.00" stroke="#fff" stroke-width="1.4"/>
<line x1="345.55" x2="345.55" y1="221.90" y2="435.00" stroke="#fff" stroke-width="1.4"/>
<line x1="278.30" x2="278.30" y1="231.70" y2="234.50" stroke="#333333" stroke-width="1.3"/>
<line x1="278.30" x2="278.30" y1="256.65" y2="288.80" stroke="#333333" stroke-width="1.3"/>
<rect x="274.54" y="234.50" width="7.51" height="22.15" fill="#009E73" stroke="#333333" stroke-width="1.3"/>
<line x1="274.54" x2="282.06" y1="244.40" y2="244.40" stroke="#333333" stroke-width="2.8"/>
<line x1="286.65" x2="286.65" y1="231.70" y2="244.00" stroke="#333333" stroke-width="1.3"/>
<line x1="286.65" x2="286.65" y1="286.65" y2="350.60" stroke="#333333" stroke-width="1.3"/>
<rect x="282.89" y="244.00" width="7.51" height="42.65" fill="#E69F00" stroke="#333333" stroke-width="1.3"/>
<line x1="282.89" x2="290.41" y1="258.10" y2="258.10" stroke="#333333" stroke-width="2.8"/>
<line x1="295.00" x2="295.00" y1="231.70" y2="239.20" stroke="#333333" stroke-width="1.3"/>
<line x1="295.00" x2="295.00" y1="262.25" y2="297.60" stroke="#333333" stroke-width="1.3"/>
<rect x="291.24" y="239.20" width="7.51" height="23.05" fill="#56B4E9" stroke="#333333" stroke-width="1.3"/>
<line x1="291.24" x2="298.76" y1="250.00" y2="250.00" stroke="#333333" stroke-width="2.8"/>
<line x1="303.35" x2="303.35" y1="231.70" y2="244.00" stroke="#333333" stroke-width="1.3"/>
<line x1="303.35" x2="303.35" y1="286.35" y2="349.70" stroke="#333333" stroke-width="1.3"/>
<rect x="299.59" y="244.00" width="7.51" height="42.35" fill="#F0E442" stroke="#333333" stroke-width="1.3"/>
<line x1="299.59" x2="307.11" y1="258.10" y2="258.10" stroke="#333333" stroke-width="2.8"/>
<line x1="311.70" x2="311.70" y1="231.70" y2="234.90" stroke="#333333" stroke-width="1.3"/>
<line x1="311.70" x2="311.70" y1="255.85" y2="286.20" stroke="#333333" stroke-width="1.3"/>
<rect x="307.94" y="234.90" width="7.51" height="20.95" fill="#0072B2" stroke="#333333" stroke-width="1.3"/>
<line x1="307.94" x2="315.46" y1="243.90" y2="243.90" stroke="#333333" stroke-width="2.8"/>
<line x1="320.05" x2="320.05" y1="231.70" y2="234.90" stroke="#333333" stroke-width="1.3"/>
<line x1="320.05" x2="320.05" y1="258.55" y2="292.60" stroke="#333333" stroke-width="1.3"/>
<rect x="316.29" y="234.90" width="7.51" height="23.65" fill="#D55E00" stroke="#333333" stroke-width="1.3"/>
<line x1="316.29" x2="323.81" y1="245.20" y2="245.20" stroke="#333333" stroke-width="2.8"/>
<line x1="328.40" x2="328.40" y1="231.70" y2="234.90" stroke="#333333" stroke-width="1.3"/>
<line x1="328.40" x2="328.40" y1="256.95" y2="288.80" stroke="#333333" stroke-width="1.3"/>
<rect x="324.64" y="234.90" width="7.51" height="22.05" fill="#CC79A7" stroke="#333333" stroke-width="1.3"/>
<line x1="324.64" x2="332.16" y1="244.40" y2="244.40" stroke="#333333" stroke-width="2.8"/>
<line x1="336.75" x2="336.75" y1="231.70" y2="247.70" stroke="#333333" stroke-width="1.3"/>
<line x1="336.75" x2="336.75" y1="271.45" y2="306.60" stroke="#333333" stroke-width="1.3"/>
<rect x="332.99" y="247.70" width="7.51" height="23.75" fill="#BEBEBE" stroke="#333333" stroke-width="1.3"/>
<line x1="332.99" x2="340.51" y1="257.10" y2="257.10" stroke="#333333" stroke-width="2.8"/>
<line x1="345.10" x2="345.10" y1="231.70" y2="235.70" stroke="#333333" stroke-width="1.3"/>
<line x1="345.10" x2="345.10" y1="256.15" y2="286.30" stroke="#333333" stroke-width="1.3"/>
<rect x="341.34" y="235.70" width="7.51" height="20.45" fill="#666666" stroke="#333333" stroke-width="1.3"/>
<line x1="341.34" x2="348.86" y1="244.70" y2="244.70" stroke="#333333" stroke-width="2.8"/>
<line x1="353.45" x2="353.45" y1="231.70" y2="236.00" stroke="#333333" stroke-width="1.3"/>
<line x1="353.45" x2="353.45" y1="287.45" y2="363.90" stroke="#333333" stroke-width="1.3"/>
<rect x="349.69" y="236.00" width="7.51" height="51.45" fill="#5CCFB3" stroke="#333333" stroke-width="1.3"/>
<line x1="349.69" x2="357.21" y1="249.50" y2="249.50" stroke="#333333" stroke-width="2.8"/>
<line x1="361.80" x2="361.80" y1="235.70" y2="242.60" stroke="#333333" stroke-width="1.3"/>
<line x1="361.80" x2="361.80" y1="292.45" y2="360.80" stroke="#333333" stroke-width="1.3"/>
<rect x="358.04" y="242.60" width="7.51" height="49.85" fill="#F6F6F6" stroke="#333333" stroke-width="1.3"/>
<line x1="358.04" x2="365.56" y1="250.80" y2="250.80" stroke="#333333" stroke-width="2.8"/>
</g>
<g>
<rect x="378.00" y="221.90" width="100.50" height="213.10" fill="#EBEBEB"/>
<line x1="378.00" x2="478.50" y1="401.23" y2="401.23" stroke="#fff" stroke-opacity="0.9" stroke-width="0.75"/>
<line x1="378.00" x2="478.50" y1="352.79" y2="352.79" stroke="#fff" stroke-opacity="0.9" stroke-width="0.75"/>
<line x1="378.00" x2="478.50" y1="304.36" y2="304.36" stroke="#fff" stroke-opacity="0.9" stroke-width="0.75"/>
<line x1="378.00" x2="478.50" y1="255.92" y2="255.92" stroke="#fff" stroke-opacity="0.9" stroke-width="0.75"/>
<line x1="390.05" x2="390.05" y1="221.90" y2="435.00" stroke="#fff" stroke-opacity="0.9" stroke-width="0.75"/>
<line x1="415.55" x2="415.55" y1="221.90" y2="435.00" stroke="#fff" stroke-opacity="0.9" stroke-width="0.75"/>
<line x1="441.05" x2="441.05" y1="221.90" y2="435.00" stroke="#fff" stroke-opacity="0.9" stroke-width="0.75"/>
<line x1="466.55" x2="466.55" y1="221.90" y2="435.00" stroke="#fff" stroke-opacity="0.9" stroke-width="0.75"/>
<line x1="378.00" x2="478.50" y1="425.45" y2="425.45" stroke="#fff" stroke-width="1.4"/>
<line x1="378.00" x2="478.50" y1="377.01" y2="377.01" stroke="#fff" stroke-width="1.4"/>
<line x1="378.00" x2="478.50" y1="328.58" y2="328.58" stroke="#fff" stroke-width="1.4"/>
<line x1="378.00" x2="478.50" y1="280.14" y2="280.14" stroke="#fff" stroke-width="1.4"/>
<line x1="378.00" x2="478.50" y1="231.70" y2="231.70" stroke="#fff" stroke-width="1.4"/>
<line x1="402.80" x2="402.80" y1="221.90" y2="435.00" stroke="#fff" stroke-width="1.4"/>
<line x1="428.30" x2="428.30" y1="221.90" y2="435.00" stroke="#fff" stroke-width="1.4"/>
<line x1="453.80" x2="453.80" y1="221.90" y2="435.00" stroke="#fff" stroke-width="1.4"/>
<line x1="386.55" x2="386.55" y1="231.70" y2="239.40" stroke="#333333" stroke-width="1.3"/>
<line x1="386.55" x2="386.55" y1="262.45" y2="296.40" stroke="#333333" stroke-width="1.3"/>
<rect x="382.79" y="239.40" width="7.51" height="23.05" fill="#009E73" stroke="#333333" stroke-width="1.3"/>
<line x1="382.79" x2="390.31" y1="249.10" y2="249.10" stroke="#333333" stroke-width="2.8"/>
<line x1="394.90" x2="394.90" y1="231.70" y2="247.20" stroke="#333333" stroke-width="1.3"/>
<line x1="394.90" x2="394.90" y1="283.85" y2="336.90" stroke="#333333" stroke-width="1.3"/>
<rect x="391.14" y="247.20" width="7.51" height="36.65" fill="#E69F00" stroke="#333333" stroke-width="1.3"/>
<line x1="391.14" x2="398.66" y1="262.40" y2="262.40" stroke="#333333" stroke-width="2.8"/>
<line x1="403.25" x2="403.25" y1="231.70" y2="243.70" stroke="#333333" stroke-width="1.3"/>
<line x1="403.25" x2="403.25" y1="267.05" y2="300.80" stroke="#333333" stroke-width="1.3"/>
<rect x="399.49" y="243.70" width="7.51" height="23.35" fill="#56B4E9" stroke="#333333" stroke-width="1.3"/>
<line x1="399.49" x2="407.01" y1="254.40" y2="254.40" stroke="#333333" stroke-width="2.8"/>
<line x1="411.60" x2="411.60" y1="231.70" y2="247.20" stroke="#333333" stroke-width="1.3"/>
<line x1="411.60" x2="411.60" y1="283.85" y2="336.90" stroke="#333333" stroke-width="1.3"/>
<rect x="407.84" y="247.20" width="7.51" height="36.65" fill="#F0E442" stroke="#333333" stroke-width="1.3"/>
<line x1="407.84" x2="415.36" y1="262.10" y2="262.10" stroke="#333333" stroke-width="2.8"/>
<line x1="419.95" x2="419.95" y1="231.70" y2="240.50" stroke="#333333" stroke-width="1.3"/>
<line x1="419.95" x2="419.95" y1="263.85" y2="297.60" stroke="#333333" stroke-width="1.3"/>
<rect x="416.19" y="240.50" width="7.51" height="23.35" fill="#0072B2" stroke="#333333" stroke-width="1.3"/>
<line x1="416.19" x2="423.71" y1="250.30" y2="250.30" stroke="#333333" stroke-width="2.8"/>
<line x1="428.30" x2="428.30" y1="231.70" y2="240.20" stroke="#333333" stroke-width="1.3"/>
<line x1="428.30" x2="428.30" y1="264.65" y2="300.20" stroke="#333333" stroke-width="1.3"/>
<rect x="424.54" y="240.20" width="7.51" height="24.45" fill="#D55E00" stroke="#333333" stroke-width="1.3"/>
<line x1="424.54" x2="432.06" y1="250.30" y2="250.30" stroke="#333333" stroke-width="2.8"/>
<line x1="436.65" x2="436.65" y1="231.70" y2="239.40" stroke="#333333" stroke-width="1.3"/>
<line x1="436.65" x2="436.65" y1="262.05" y2="296.30" stroke="#333333" stroke-width="1.3"/>
<rect x="432.89" y="239.40" width="7.51" height="22.65" fill="#CC79A7" stroke="#333333" stroke-width="1.3"/>
<line x1="432.89" x2="440.41" y1="249.10" y2="249.10" stroke="#333333" stroke-width="2.8"/>
<line x1="445.00" x2="445.00" y1="231.70" y2="251.40" stroke="#333333" stroke-width="1.3"/>
<line x1="445.00" x2="445.00" y1="277.85" y2="316.90" stroke="#333333" stroke-width="1.3"/>
<rect x="441.24" y="251.40" width="7.51" height="26.45" fill="#BEBEBE" stroke="#333333" stroke-width="1.3"/>
<line x1="441.24" x2="448.76" y1="262.90" y2="262.90" stroke="#333333" stroke-width="2.8"/>
<line x1="453.35" x2="453.35" y1="231.70" y2="239.70" stroke="#333333" stroke-width="1.3"/>
<line x1="453.35" x2="453.35" y1="260.15" y2="290.60" stroke="#333333" stroke-width="1.3"/>
<rect x="449.59" y="239.70" width="7.51" height="20.45" fill="#666666" stroke="#333333" stroke-width="1.3"/>
<line x1="449.59" x2="457.11" y1="248.70" y2="248.70" stroke="#333333" stroke-width="2.8"/>
<line x1="461.70" x2="461.70" y1="231.70" y2="241.80" stroke="#333333" stroke-width="1.3"/>
<line x1="461.70" x2="461.70" y1="289.95" y2="361.60" stroke="#333333" stroke-width="1.3"/>
<rect x="457.94" y="241.80" width="7.51" height="48.15" fill="#5CCFB3" stroke="#333333" stroke-width="1.3"/>
<line x1="457.94" x2="465.46" y1="257.60" y2="257.60" stroke="#333333" stroke-width="2.8"/>
<line x1="470.05" x2="470.05" y1="235.40" y2="245.30" stroke="#333333" stroke-width="1.3"/>
<line x1="470.05" x2="470.05" y1="280.55" y2="332.70" stroke="#333333" stroke-width="1.3"/>
<rect x="466.29" y="245.30" width="7.51" height="35.25" fill="#F6F6F6" stroke="#333333" stroke-width="1.3"/>
<line x1="466.29" x2="473.81" y1="254.70" y2="254.70" stroke="#333333" stroke-width="2.8"/>
</g>
<g>
<rect x="486.60" y="221.90" width="100.40" height="213.10" fill="#EBEBEB"/>
<line x1="486.60" x2="587.00" y1="401.23" y2="401.23" stroke="#fff" stroke-opacity="0.9" stroke-width="0.75"/>
<line x1="486.60" x2="587.00" y1="352.79" y2="352.79" stroke="#fff" stroke-opacity="0.9" stroke-width="0.75"/>
<line x1="486.60" x2="587.00" y1="304.36" y2="304.36" stroke="#fff" stroke-opacity="0.9" stroke-width="0.75"/>
<line x1="486.60" x2="587.00" y1="255.92" y2="255.92" stroke="#fff" stroke-opacity="0.9" stroke-width="0.75"/>
<line x1="498.30" x2="498.30" y1="221.90" y2="435.00" stroke="#fff" stroke-opacity="0.9" stroke-width="0.75"/>
<line x1="523.80" x2="523.80" y1="221.90" y2="435.00" stroke="#fff" stroke-opacity="0.9" stroke-width="0.75"/>
<line x1="549.30" x2="549.30" y1="221.90" y2="435.00" stroke="#fff" stroke-opacity="0.9" stroke-width="0.75"/>
<line x1="574.80" x2="574.80" y1="221.90" y2="435.00" stroke="#fff" stroke-opacity="0.9" stroke-width="0.75"/>
<line x1="486.60" x2="587.00" y1="425.45" y2="425.45" stroke="#fff" stroke-width="1.4"/>
<line x1="486.60" x2="587.00" y1="377.01" y2="377.01" stroke="#fff" stroke-width="1.4"/>
<line x1="486.60" x2="587.00" y1="328.58" y2="328.58" stroke="#fff" stroke-width="1.4"/>
<line x1="486.60" x2="587.00" y1="280.14" y2="280.14" stroke="#fff" stroke-width="1.4"/>
<line x1="486.60" x2="587.00" y1="231.70" y2="231.70" stroke="#fff" stroke-width="1.4"/>
<line x1="511.05" x2="511.05" y1="221.90" y2="435.00" stroke="#fff" stroke-width="1.4"/>
<line x1="536.55" x2="536.55" y1="221.90" y2="435.00" stroke="#fff" stroke-width="1.4"/>
<line x1="562.05" x2="562.05" y1="221.90" y2="435.00" stroke="#fff" stroke-width="1.4"/>
<line x1="494.80" x2="494.80" y1="231.70" y2="239.40" stroke="#333333" stroke-width="1.3"/>
<line x1="494.80" x2="494.80" y1="263.65" y2="298.60" stroke="#333333" stroke-width="1.3"/>
<rect x="491.04" y="239.40" width="7.51" height="24.25" fill="#009E73" stroke="#333333" stroke-width="1.3"/>
<line x1="491.04" x2="498.56" y1="249.50" y2="249.50" stroke="#333333" stroke-width="2.8"/>
<line x1="503.15" x2="503.15" y1="231.70" y2="243.40" stroke="#333333" stroke-width="1.3"/>
<line x1="503.15" x2="503.15" y1="268.15" y2="305.00" stroke="#333333" stroke-width="1.3"/>
<rect x="499.39" y="243.40" width="7.51" height="24.75" fill="#E69F00" stroke="#333333" stroke-width="1.3"/>
<line x1="499.39" x2="506.91" y1="252.80" y2="252.80" stroke="#333333" stroke-width="2.8"/>
<line x1="511.50" x2="511.50" y1="231.70" y2="243.40" stroke="#333333" stroke-width="1.3"/>
<line x1="511.50" x2="511.50" y1="264.95" y2="296.80" stroke="#333333" stroke-width="1.3"/>
<rect x="507.74" y="243.40" width="7.51" height="21.55" fill="#56B4E9" stroke="#333333" stroke-width="1.3"/>
<line x1="507.74" x2="515.26" y1="252.80" y2="252.80" stroke="#333333" stroke-width="2.8"/>
<line x1="519.85" x2="519.85" y1="231.70" y2="243.40" stroke="#333333" stroke-width="1.3"/>
<line x1="519.85" x2="519.85" y1="267.75" y2="304.20" stroke="#333333" stroke-width="1.3"/>
<rect x="516.09" y="243.40" width="7.51" height="24.35" fill="#F0E442" stroke="#333333" stroke-width="1.3"/>
<line x1="516.09" x2="523.61" y1="252.30" y2="252.30" stroke="#333333" stroke-width="2.8"/>
<line x1="528.20" x2="528.20" y1="231.70" y2="241.30" stroke="#333333" stroke-width="1.3"/>
<line x1="528.20" x2="528.20" y1="268.55" y2="307.40" stroke="#333333" stroke-width="1.3"/>
<rect x="524.44" y="241.30" width="7.51" height="27.25" fill="#0072B2" stroke="#333333" stroke-width="1.3"/>
<line x1="524.44" x2="531.96" y1="252.80" y2="252.80" stroke="#333333" stroke-width="2.8"/>
<line x1="536.55" x2="536.55" y1="231.70" y2="240.20" stroke="#333333" stroke-width="1.3"/>
<line x1="536.55" x2="536.55" y1="265.75" y2="303.40" stroke="#333333" stroke-width="1.3"/>
<rect x="532.79" y="240.20" width="7.51" height="25.55" fill="#D55E00" stroke="#333333" stroke-width="1.3"/>
<line x1="532.79" x2="540.31" y1="250.70" y2="250.70" stroke="#333333" stroke-width="2.8"/>
<line x1="544.90" x2="544.90" y1="231.70" y2="240.50" stroke="#333333" stroke-width="1.3"/>
<line x1="544.90" x2="544.90" y1="264.95" y2="301.80" stroke="#333333" stroke-width="1.3"/>
<rect x="541.14" y="240.50" width="7.51" height="24.45" fill="#CC79A7" stroke="#333333" stroke-width="1.3"/>
<line x1="541.14" x2="548.66" y1="250.30" y2="250.30" stroke="#333333" stroke-width="2.8"/>
<line x1="553.25" x2="553.25" y1="231.70" y2="250.50" stroke="#333333" stroke-width="1.3"/>
<line x1="553.25" x2="553.25" y1="275.75" y2="313.40" stroke="#333333" stroke-width="1.3"/>
<rect x="549.49" y="250.50" width="7.51" height="25.25" fill="#BEBEBE" stroke="#333333" stroke-width="1.3"/>
<line x1="549.49" x2="557.01" y1="260.80" y2="260.80" stroke="#333333" stroke-width="2.8"/>
<line x1="561.60" x2="561.60" y1="231.70" y2="239.70" stroke="#333333" stroke-width="1.3"/>
<line x1="561.60" x2="561.60" y1="263.05" y2="297.50" stroke="#333333" stroke-width="1.3"/>
<rect x="557.84" y="239.70" width="7.51" height="23.35" fill="#666666" stroke="#333333" stroke-width="1.3"/>
<line x1="557.84" x2="565.36" y1="249.50" y2="249.50" stroke="#333333" stroke-width="2.8"/>
<line x1="569.95" x2="569.95" y1="231.70" y2="242.10" stroke="#333333" stroke-width="1.3"/>
<line x1="569.95" x2="569.95" y1="289.95" y2="361.80" stroke="#333333" stroke-width="1.3"/>
<rect x="566.19" y="242.10" width="7.51" height="47.85" fill="#5CCFB3" stroke="#333333" stroke-width="1.3"/>
<line x1="566.19" x2="573.71" y1="259.70" y2="259.70" stroke="#333333" stroke-width="2.8"/>
<line x1="578.30" x2="578.30" y1="231.70" y2="241.00" stroke="#333333" stroke-width="1.3"/>
<line x1="578.30" x2="578.30" y1="259.85" y2="287.60" stroke="#333333" stroke-width="1.3"/>
<rect x="574.54" y="241.00" width="7.51" height="18.85" fill="#F6F6F6" stroke="#333333" stroke-width="1.3"/>
<line x1="574.54" x2="582.06" y1="246.80" y2="246.80" stroke="#333333" stroke-width="2.8"/>
</g>
<line x1="49.3" x2="53.6" y1="425.45" y2="425.45" stroke="#333" stroke-width="1.5"/>
<text x="46.0" y="430.00" font-size="13" fill="#4D4D4D" stroke="#4D4D4D" stroke-width="0.2" text-anchor="end">0.00</text>
<line x1="49.3" x2="53.6" y1="377.01" y2="377.01" stroke="#333" stroke-width="1.5"/>
<text x="46.0" y="381.56" font-size="13" fill="#4D4D4D" stroke="#4D4D4D" stroke-width="0.2" text-anchor="end">0.25</text>
<line x1="49.3" x2="53.6" y1="328.58" y2="328.58" stroke="#333" stroke-width="1.5"/>
<text x="46.0" y="333.13" font-size="13" fill="#4D4D4D" stroke="#4D4D4D" stroke-width="0.2" text-anchor="end">0.50</text>
<line x1="49.3" x2="53.6" y1="280.14" y2="280.14" stroke="#333" stroke-width="1.5"/>
<text x="46.0" y="284.69" font-size="13" fill="#4D4D4D" stroke="#4D4D4D" stroke-width="0.2" text-anchor="end">0.75</text>
<line x1="49.3" x2="53.6" y1="231.70" y2="231.70" stroke="#333" stroke-width="1.5"/>
<text x="46.0" y="236.25" font-size="13" fill="#4D4D4D" stroke="#4D4D4D" stroke-width="0.2" text-anchor="end">1.00</text>
<rect x="587.1" y="221.90" width="24.6" height="213.10" fill="#D9D9D9"/>
<text transform="translate(594.9,328.45) rotate(90)" font-size="13" fill="#1A1A1A" stroke="#1A1A1A" stroke-width="0.2" text-anchor="middle">window 500</text>
<rect x="53.60" y="435.0" width="100.10" height="24.7" fill="#D9D9D9"/>
<text x="103.60" y="452.5" font-size="13" fill="#1A1A1A" stroke="#1A1A1A" stroke-width="0.2" text-anchor="middle">1</text>
<rect x="162.00" y="435.0" width="100.10" height="24.7" fill="#D9D9D9"/>
<text x="211.95" y="452.5" font-size="13" fill="#1A1A1A" stroke="#1A1A1A" stroke-width="0.2" text-anchor="middle">2</text>
<rect x="269.90" y="435.0" width="100.25" height="24.7" fill="#D9D9D9"/>
<text x="320.30" y="452.5" font-size="13" fill="#1A1A1A" stroke="#1A1A1A" stroke-width="0.2" text-anchor="middle">3</text>
<rect x="378.00" y="435.0" width="100.50" height="24.7" fill="#D9D9D9"/>
<text x="428.65" y="452.5" font-size="13" fill="#1A1A1A" stroke="#1A1A1A" stroke-width="0.2" text-anchor="middle">4</text>
<rect x="486.60" y="435.0" width="100.40" height="24.7" fill="#D9D9D9"/>
<text x="537.00" y="452.5" font-size="13" fill="#1A1A1A" stroke="#1A1A1A" stroke-width="0.2" text-anchor="middle">5</text>
<text x="319.4" y="479.6" font-size="16" fill="#000" stroke="#000" stroke-width="0.2" text-anchor="middle">example class</text>
<text transform="translate(13.3,218.2) rotate(-90)" font-size="16" fill="#000" stroke="#000" stroke-width="0.2" text-anchor="middle">F1</text>
<text x="636.0" y="80.0" font-size="16" fill="#000" stroke="#000" stroke-width="0.2">model</text>
<rect x="636.3" y="90.55" width="25.2" height="278.41" fill="#F2F2F2"/>
<line x1="648.90" x2="648.90" y1="93.08" y2="96.88" stroke="#333333" stroke-width="1.3"/>
<line x1="648.90" x2="648.90" y1="109.53" y2="113.33" stroke="#333333" stroke-width="1.3"/>
<rect x="639.45" y="96.88" width="18.90" height="12.65" fill="#009E73" stroke="#333333" stroke-width="1.3"/>
<line x1="639.45" x2="658.35" y1="103.20" y2="103.20" stroke="#333333" stroke-width="1.3"/>
<text x="670.0" y="108.05" font-size="13" fill="#000" stroke="#000" stroke-width="0.2">1</text>
<line x1="648.90" x2="648.90" y1="118.39" y2="122.19" stroke="#333333" stroke-width="1.3"/>
<line x1="648.90" x2="648.90" y1="134.84" y2="138.64" stroke="#333333" stroke-width="1.3"/>
<rect x="639.45" y="122.19" width="18.90" height="12.65" fill="#E69F00" stroke="#333333" stroke-width="1.3"/>
<line x1="639.45" x2="658.35" y1="128.51" y2="128.51" stroke="#333333" stroke-width="1.3"/>
<text x="670.0" y="133.36" font-size="13" fill="#000" stroke="#000" stroke-width="0.2">2</text>
<line x1="648.90" x2="648.90" y1="143.70" y2="147.50" stroke="#333333" stroke-width="1.3"/>
<line x1="648.90" x2="648.90" y1="160.15" y2="163.95" stroke="#333333" stroke-width="1.3"/>
<rect x="639.45" y="147.50" width="18.90" height="12.65" fill="#56B4E9" stroke="#333333" stroke-width="1.3"/>
<line x1="639.45" x2="658.35" y1="153.82" y2="153.82" stroke="#333333" stroke-width="1.3"/>
<text x="670.0" y="158.67" font-size="13" fill="#000" stroke="#000" stroke-width="0.2">3</text>
<line x1="648.90" x2="648.90" y1="169.01" y2="172.81" stroke="#333333" stroke-width="1.3"/>
<line x1="648.90" x2="648.90" y1="185.46" y2="189.26" stroke="#333333" stroke-width="1.3"/>
<rect x="639.45" y="172.81" width="18.90" height="12.65" fill="#F0E442" stroke="#333333" stroke-width="1.3"/>
<line x1="639.45" x2="658.35" y1="179.13" y2="179.13" stroke="#333333" stroke-width="1.3"/>
<text x="670.0" y="183.98" font-size="13" fill="#000" stroke="#000" stroke-width="0.2">4</text>
<line x1="648.90" x2="648.90" y1="194.32" y2="198.12" stroke="#333333" stroke-width="1.3"/>
<line x1="648.90" x2="648.90" y1="210.77" y2="214.57" stroke="#333333" stroke-width="1.3"/>
<rect x="639.45" y="198.12" width="18.90" height="12.65" fill="#0072B2" stroke="#333333" stroke-width="1.3"/>
<line x1="639.45" x2="658.35" y1="204.44" y2="204.44" stroke="#333333" stroke-width="1.3"/>
<text x="670.0" y="209.29" font-size="13" fill="#000" stroke="#000" stroke-width="0.2">5</text>
<line x1="648.90" x2="648.90" y1="219.63" y2="223.43" stroke="#333333" stroke-width="1.3"/>
<line x1="648.90" x2="648.90" y1="236.08" y2="239.88" stroke="#333333" stroke-width="1.3"/>
<rect x="639.45" y="223.43" width="18.90" height="12.65" fill="#D55E00" stroke="#333333" stroke-width="1.3"/>
<line x1="639.45" x2="658.35" y1="229.75" y2="229.75" stroke="#333333" stroke-width="1.3"/>
<text x="670.0" y="234.60" font-size="13" fill="#000" stroke="#000" stroke-width="0.2">6</text>
<line x1="648.90" x2="648.90" y1="244.94" y2="248.74" stroke="#333333" stroke-width="1.3"/>
<line x1="648.90" x2="648.90" y1="261.39" y2="265.19" stroke="#333333" stroke-width="1.3"/>
<rect x="639.45" y="248.74" width="18.90" height="12.65" fill="#CC79A7" stroke="#333333" stroke-width="1.3"/>
<line x1="639.45" x2="658.35" y1="255.06" y2="255.06" stroke="#333333" stroke-width="1.3"/>
<text x="670.0" y="259.91" font-size="13" fill="#000" stroke="#000" stroke-width="0.2">7</text>
<line x1="648.90" x2="648.90" y1="270.25" y2="274.05" stroke="#333333" stroke-width="1.3"/>
<line x1="648.90" x2="648.90" y1="286.70" y2="290.50" stroke="#333333" stroke-width="1.3"/>
<rect x="639.45" y="274.05" width="18.90" height="12.65" fill="#BEBEBE" stroke="#333333" stroke-width="1.3"/>
<line x1="639.45" x2="658.35" y1="280.37" y2="280.37" stroke="#333333" stroke-width="1.3"/>
<text x="670.0" y="285.22" font-size="13" fill="#000" stroke="#000" stroke-width="0.2">8</text>
<line x1="648.90" x2="648.90" y1="295.56" y2="299.36" stroke="#333333" stroke-width="1.3"/>
<line x1="648.90" x2="648.90" y1="312.01" y2="315.81" stroke="#333333" stroke-width="1.3"/>
<rect x="639.45" y="299.36" width="18.90" height="12.65" fill="#666666" stroke="#333333" stroke-width="1.3"/>
<line x1="639.45" x2="658.35" y1="305.68" y2="305.68" stroke="#333333" stroke-width="1.3"/>
<text x="670.0" y="310.53" font-size="13" fill="#000" stroke="#000" stroke-width="0.2">9</text>
<line x1="648.90" x2="648.90" y1="320.87" y2="324.67" stroke="#333333" stroke-width="1.3"/>
<line x1="648.90" x2="648.90" y1="337.32" y2="341.12" stroke="#333333" stroke-width="1.3"/>
<rect x="639.45" y="324.67" width="18.90" height="12.65" fill="#5CCFB3" stroke="#333333" stroke-width="1.3"/>
<line x1="639.45" x2="658.35" y1="330.99" y2="330.99" stroke="#333333" stroke-width="1.3"/>
<text x="670.0" y="335.84" font-size="13" fill="#000" stroke="#000" stroke-width="0.2">10</text>
<line x1="648.90" x2="648.90" y1="346.18" y2="349.98" stroke="#333333" stroke-width="1.3"/>
<line x1="648.90" x2="648.90" y1="362.63" y2="366.43" stroke="#333333" stroke-width="1.3"/>
<rect x="639.45" y="349.98" width="18.90" height="12.65" fill="#F6F6F6" stroke="#333333" stroke-width="1.3"/>
<line x1="639.45" x2="658.35" y1="356.30" y2="356.30" stroke="#333333" stroke-width="1.3"/>
<text x="670.0" y="361.15" font-size="13" fill="#000" stroke="#000" stroke-width="0.2">11</text>
</svg>
</body></html>
